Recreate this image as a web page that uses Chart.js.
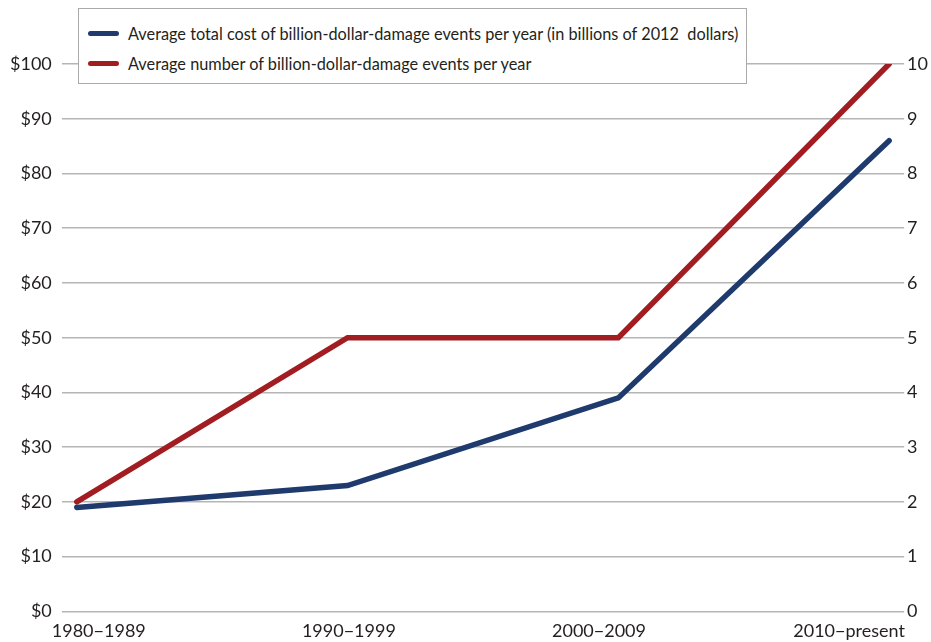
<html lang="en">
<head>
    <meta charset="utf-8">
    <title>Billion-dollar-damage events</title>
    <script src="https://cdn.jsdelivr.net/npm/chart.js"></script>
    <style>
        body { margin: 0; background: #fff; }
        #wrap { position: relative; width: 931px; height: 642px; }
        #legend {
            position: absolute; left: 78px; top: 8px; width: 669px; height: 76px;
            border: 1.5px solid #aaaaaa; background: #fff;
            font-family: Lato, sans-serif; font-size: 16.3px; color: #231f20;
            box-sizing: border-box; padding-top: 9px; white-space: nowrap;
        }
        .item { display: flex; align-items: center; height: 30px; }
        .swatch { width: 31px; height: 5px; border-radius: 3px; margin-left: 9px; margin-right: 9px; }
    </style>
</head>
<body>
<div id="wrap">
    <canvas id="myChart" width="931" height="642"></canvas>
    <div id="legend"></div>
</div>
<script>
var Periods = ['1980\u22121989', '1990\u22121999', '2000\u22122009', '2010\u2212present'];
var CostLabel = 'Average total cost of billion-dollar-damage events per year (in billions of 2012\u00a0 dollars)';
var CountLabel = 'Average number of billion-dollar-damage events per year';
var Cost = [19, 23, 39, 86];
var Count = [2, 5, 5, 10];
var CostTicks = [0, 10, 20, 30, 40, 50, 60, 70, 80, 90, 100];
var CountTicks = [0, 1, 2, 3, 4, 5, 6, 7, 8, 9, 10];

var blue = '#1f3a6c';
var red = '#a11d22';
var gridColor = '#b5b5b5';
var font = { family: 'Lato, sans-serif', size: 18 };

function toPoints(arr) {
    return arr.map((v, i) => ({ x: i, y: v }));
}

let chart = new Chart('myChart', {
    type: 'line',
    data: {
        datasets: [{
            label: CostLabel,
            data: toPoints(Cost),
            yAxisID: 'y',
            borderColor: blue,
            backgroundColor: blue,
            borderWidth: 5.5,
            borderCapStyle: 'round',
            borderJoinStyle: 'miter',
            pointRadius: 0,
            tension: 0
        }, {
            label: CountLabel,
            data: toPoints(Count),
            yAxisID: 'y1',
            borderColor: red,
            backgroundColor: red,
            borderWidth: 5.5,
            borderCapStyle: 'round',
            borderJoinStyle: 'miter',
            pointRadius: 0,
            tension: 0
        }]
    },
    options: {
        responsive: false,
        animation: false,
        layout: { padding: { top: 64, left: 0, right: 0, bottom: -9 } },
        plugins: { legend: { display: false }, tooltip: { enabled: false } },
        scales: {
            x: {
                type: 'linear', display: false,
                min: -0.0554, max: 3.0554
            },
            // category labels sit on their own axis, spaced a little tighter than the points
            xl: {
                type: 'linear', position: 'bottom',
                min: -0.148, max: 3.22,
                grid: { display: false, drawTicks: false },
                border: { display: false },
                afterBuildTicks: axis => { axis.ticks = Periods.map((p, i) => ({ value: i })); },
                ticks: {
                    autoSkip: false, maxRotation: 0, padding: 9,
                    color: '#231f20', font: font,
                    callback: v => Periods[v]
                }
            },
            y: {
                position: 'left', min: 0, max: 100,
                afterBuildTicks: axis => { axis.ticks = CostTicks.map(v => ({ value: v })); },
                grid: { color: gridColor, lineWidth: 1.5, drawTicks: false },
                border: { display: false },
                ticks: {
                    padding: 10, color: '#231f20', font: font,
                    callback: v => '$' + v
                }
            },
            y1: {
                position: 'right', min: 0, max: 10,
                afterBuildTicks: axis => { axis.ticks = CountTicks.map(v => ({ value: v })); },
                grid: { display: false, drawTicks: false },
                border: { display: false },
                ticks: { padding: 3, color: '#231f20', font: font }
            }
        }
    }
});

// legend box drawn over the plot, built from the dataset labels
var legend = document.getElementById('legend');
chart.data.datasets.forEach(ds => {
    var row = document.createElement('div');
    row.className = 'item';
    var sw = document.createElement('span');
    sw.className = 'swatch';
    sw.style.background = ds.borderColor;
    var txt = document.createElement('span');
    txt.textContent = ds.label;
    row.appendChild(sw);
    row.appendChild(txt);
    legend.appendChild(row);
});
</script>
</body>
</html>
